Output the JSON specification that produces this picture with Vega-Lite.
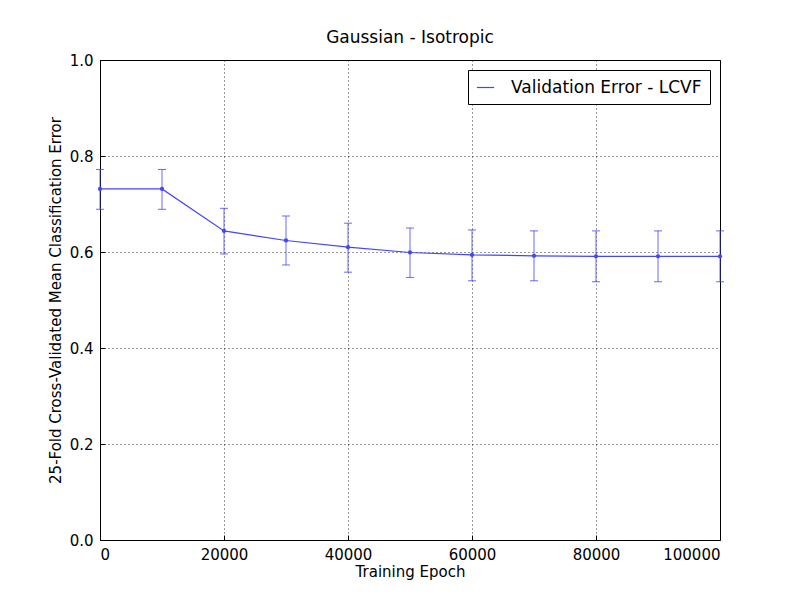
{
  "$schema": "https://vega.github.io/schema/vega-lite/v6.json",
  "width": 620,
  "height": 480,
  "padding": {"left": 100, "top": 60, "right": 80, "bottom": 60},
  "autosize": "none",
  "background": "white",
  "title": {"text": "Gaussian - Isotropic", "fontSize": 17, "fontWeight": "normal", "font": "DejaVu Sans", "offset": 6},
  "config": {
    "font": "DejaVu Sans",
    "view": {"stroke": "black", "strokeWidth": 1},
    "axis": {
      "labelFontSize": 15, "titleFontSize": 15, "titleFontWeight": "normal",
      "labelColor": "black", "titleColor": "black",
      "domain": false, "tickColor": "black", "tickSize": -5,
      "grid": true, "gridColor": "black", "gridDash": [1, 3], "gridOpacity": 0.8,
      "labelPadding": 12
    }
  },
  "data": {
    "values": [
      {"epoch": 0, "err": 0.7315, "lo": 0.689, "hi": 0.772},
      {"epoch": 10000, "err": 0.7315, "lo": 0.689, "hi": 0.772},
      {"epoch": 20000, "err": 0.644, "lo": 0.596, "hi": 0.691},
      {"epoch": 30000, "err": 0.624, "lo": 0.573, "hi": 0.675},
      {"epoch": 40000, "err": 0.610, "lo": 0.558, "hi": 0.660},
      {"epoch": 50000, "err": 0.599, "lo": 0.547, "hi": 0.650},
      {"epoch": 60000, "err": 0.594, "lo": 0.540, "hi": 0.646},
      {"epoch": 70000, "err": 0.592, "lo": 0.540, "hi": 0.644},
      {"epoch": 80000, "err": 0.591, "lo": 0.538, "hi": 0.644},
      {"epoch": 90000, "err": 0.591, "lo": 0.538, "hi": 0.644},
      {"epoch": 100000, "err": 0.591, "lo": 0.538, "hi": 0.644}
    ]
  },
  "encoding": {
    "x": {"field": "epoch", "type": "quantitative", "title": "Training Epoch",
      "scale": {"domain": [0, 100000], "nice": false},
      "axis": {"values": [0, 20000, 40000, 60000, 80000, 100000], "format": "d", "titlePadding": 2}},
    "y": {"field": "err", "type": "quantitative", "title": "25-Fold Cross-Validated Mean Classification Error",
      "scale": {"domain": [0, 1], "nice": false},
      "axis": {"values": [0, 0.2, 0.4, 0.6, 0.8, 1.0], "format": ".1f", "titlePadding": 6}}
  },
  "layer": [
    {
      "mark": {"type": "errorbar", "ticks": {"size": 8, "color": "#4444ff"}, "color": "#4444ff", "opacity": 0.8},
      "encoding": {"y": {"field": "lo", "type": "quantitative"}, "y2": {"field": "hi"}}
    },
    {
      "mark": {"type": "line", "color": "#4444ff", "strokeWidth": 1.2, "point": {"size": 18, "color": "#2222ff", "filled": true}},
      "encoding": {
        "color": {"datum": "Validation Error - LCVF", "type": "nominal",
          "scale": {"range": ["#4444ff"]},
          "legend": {"title": null, "orient": "top-right", "offset": 10, "labelFontSize": 17, "labelColor": "black",
            "labelLimit": 0,
            "symbolType": "stroke", "symbolSize": 300, "symbolStrokeWidth": 1.2,
            "strokeColor": "black", "fillColor": "white", "padding": 8, "labelOffset": 16}}
      }
    }
  ]
}
